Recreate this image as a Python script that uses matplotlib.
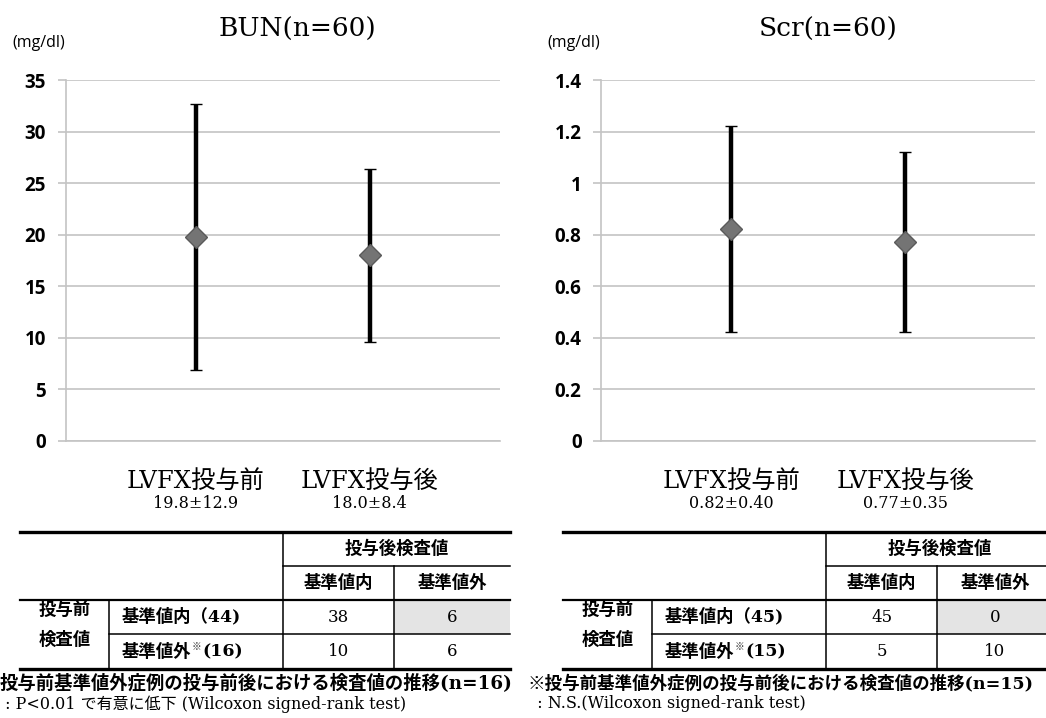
####### IMPORT PACKAGES #######

import matplotlib
matplotlib.use("Agg")
import matplotlib.pyplot as plt
from matplotlib.lines import Line2D
from matplotlib.patches import Rectangle


####### DATA #######

groups = ['LVFX投与前', 'LVFX投与後']

bun_mean = [19.8, 18.0]
bun_sd = [12.9, 8.4]
scr_mean = [0.82, 0.77]
scr_sd = [0.40, 0.35]

bun_ticks = [0, 5, 10, 15, 20, 25, 30, 35]
scr_ticks = [0, 0.2, 0.4, 0.6, 0.8, 1.0, 1.2, 1.4]
scr_ticklabels = ['0', '0.2', '0.4', '0.6', '0.8', '1', '1.2', '1.4']

# rows: before in range / out of range ; cols: after in range / out of range
bun_table = [[38, 6], [10, 6]]
scr_table = [[45, 0], [5, 10]]

bun_note = ['投与前基準値外症例の投与前後における検査値の推移(n=16)',
            ' : P<0.01 で有意に低下 (Wilcoxon signed-rank test)']
scr_note = ['※投与前基準値外症例の投与前後における検査値の推移(n=15)',
            '  : N.S.(Wilcoxon signed-rank test)']


####### GENERAL PARAMETERS #######

W, H = 1046, 718
MIX = ['DejaVu Serif', 'Noto Sans CJK JP']
GOTH = ['Noto Sans CJK JP']
grid_c = '#c4c4c4'


def fx(x):
    return x / W


def fy(y):
    return 1 - y / H


fig = plt.figure(figsize=(W / 100, H / 100), dpi=100)


####### THE CHARTS #######

def chart(left, title, title_x, mean, sd, ticks, ticklabels, fmt):
    ax = fig.add_axes([fx(left), fy(440.7), fx(434.4), (440.7 - 80) / H])
    ax.errorbar([0, 1], mean, yerr=sd, fmt='D', color='black', ecolor='black',
                elinewidth=3.2, capsize=4.5, capthick=3.2,
                markersize=11, markerfacecolor='#747474', markeredgecolor='#5a5a5a',
                markeredgewidth=1.0, zorder=3)
    ax.set_xlim(-0.75, 1.75)
    ax.set_ylim(ticks[0], ticks[-1])
    ax.set_yticks(ticks)
    ax.set_yticklabels(ticklabels, fontsize=13.5, fontweight='bold', family='Open Sans')
    ax.set_xticks([])
    ax.yaxis.grid(True, color=grid_c, linewidth=1.2)
    ax.set_axisbelow(True)
    for s in ['top', 'right']:
        ax.spines[s].set_visible(False)
    ax.spines['left'].set_color(grid_c)
    ax.spines['left'].set_linewidth(1.2)
    ax.spines['bottom'].set_color(grid_c)
    ax.spines['bottom'].set_linewidth(1.2)
    ax.tick_params(axis='y', length=6, width=1.2, color=grid_c, pad=8)

    for i, g in enumerate(groups):
        ax.annotate(g, xy=(i, 0), xycoords=('data', 'axes fraction'),
                    xytext=(0, -29), textcoords='offset points',
                    ha='center', va='center', fontsize=17.5, family=MIX)
        ax.annotate(fmt.format(mean[i], sd[i]), xy=(i, 0),
                    xycoords=('data', 'axes fraction'),
                    xytext=(0, -45), textcoords='offset points',
                    ha='center', va='center', fontsize=11.5, family='DejaVu Serif')

    fig.text(fx(title_x), fy(29), title, ha='center', va='center',
             fontsize=19, family='DejaVu Serif')
    fig.text(fx(left - 27), fy(43), '(mg/dl)', ha='center', va='center',
             fontsize=11.5, family='Open Sans')
    return ax


chart(65.6, 'BUN(n=60)', 297, bun_mean, bun_sd, bun_ticks,
      [str(t) for t in bun_ticks], '{:.1f}±{:.1f}')
chart(601, 'Scr(n=60)', 828, scr_mean, scr_sd, scr_ticks,
      scr_ticklabels, '{:.2f}±{:.2f}')


####### THE TABLES #######

def hline(x0, x1, y, lw):
    fig.add_artist(Line2D([fx(x0), fx(x1)], [fy(y), fy(y)], color='black',
                          linewidth=lw, transform=fig.transFigure))


def vline(x, y0, y1, lw=1.1):
    fig.add_artist(Line2D([fx(x), fx(x)], [fy(y0), fy(y1)], color='black',
                          linewidth=lw, transform=fig.transFigure))


def table(x0, table_vals, notes, note_x, note_fs):
    x1 = x0 + 490
    xa = x0 + 89      # row-group / row-label divider
    xb = x0 + 263     # label / values divider
    xc = x0 + 374     # value column divider
    rows = [532, 566, 600, 634, 669]

    fig.add_artist(Rectangle((fx(xc), fy(634)), fx(x1 - xc), (634 - 600) / H,
                             facecolor='#e4e4e4', edgecolor='none',
                             transform=fig.transFigure))
    hline(x0, x1, rows[0], 2.4)
    hline(xb, x1, rows[1], 1.1)
    hline(x0, x1, rows[2], 1.6)
    hline(xa, x1, rows[3], 1.1)
    hline(x0, x1, rows[4], 2.4)
    vline(xb, rows[0], rows[4])
    vline(xc, rows[1], rows[4])
    vline(xa, rows[2], rows[4])

    fig.text(fx((xb + x1) / 2), fy(549), '投与後検査値', ha='center', va='center',
             fontsize=12.5, fontweight='bold', family=GOTH)
    fig.text(fx((xb + xc) / 2), fy(583), '基準値内', ha='center', va='center',
             fontsize=12.5, fontweight='bold', family=GOTH)
    fig.text(fx((xc + x1) / 2), fy(583), '基準値外', ha='center', va='center',
             fontsize=12.5, fontweight='bold', family=GOTH)
    fig.text(fx((x0 + xa) / 2), fy(610), '投与前', ha='center', va='center',
             fontsize=12.5, fontweight='bold', family=GOTH)
    fig.text(fx((x0 + xa) / 2), fy(640), '検査値', ha='center', va='center',
             fontsize=12.5, fontweight='bold', family=GOTH)

    n_in = sum(table_vals[0])
    n_out = sum(table_vals[1])
    fig.text(fx(xa + 13), fy(617), '基準値内（{})'.format(n_in), ha='left',
             va='center', fontsize=12.5, fontweight='bold', family=MIX)
    t = fig.text(fx(xa + 13), fy(652), '基準値外', ha='left', va='center',
                 fontsize=12.5, fontweight='bold', family=GOTH)
    renderer = fig.canvas.get_renderer()
    bb = t.get_window_extent(renderer)
    fig.text(bb.x1 / W, fy(647), '※', ha='left', va='center',
             fontsize=7, family=GOTH, color='#333333')
    fig.text(bb.x1 / W + fx(11), fy(652), '({})'.format(n_out), ha='left',
             va='center', fontsize=12.5, fontweight='bold', family='DejaVu Serif')

    for r, yc in enumerate([617, 652]):
        for c, xm in enumerate([(xb + xc) / 2, (xc + x1) / 2]):
            fig.text(fx(xm), fy(yc), str(table_vals[r][c]), ha='center',
                     va='center', fontsize=12, family='DejaVu Serif')

    fig.text(fx(note_x), fy(683), notes[0], ha='left', va='center',
             fontsize=note_fs, fontweight='bold', family=MIX)
    fig.text(fx(note_x), fy(704), notes[1], ha='left', va='center',
             fontsize=11.5, family=MIX)


table(20, bun_table, bun_note, 0, 13.2)
table(563, scr_table, scr_note, 527, 12.6)

fig.savefig('out.png', dpi=100)
